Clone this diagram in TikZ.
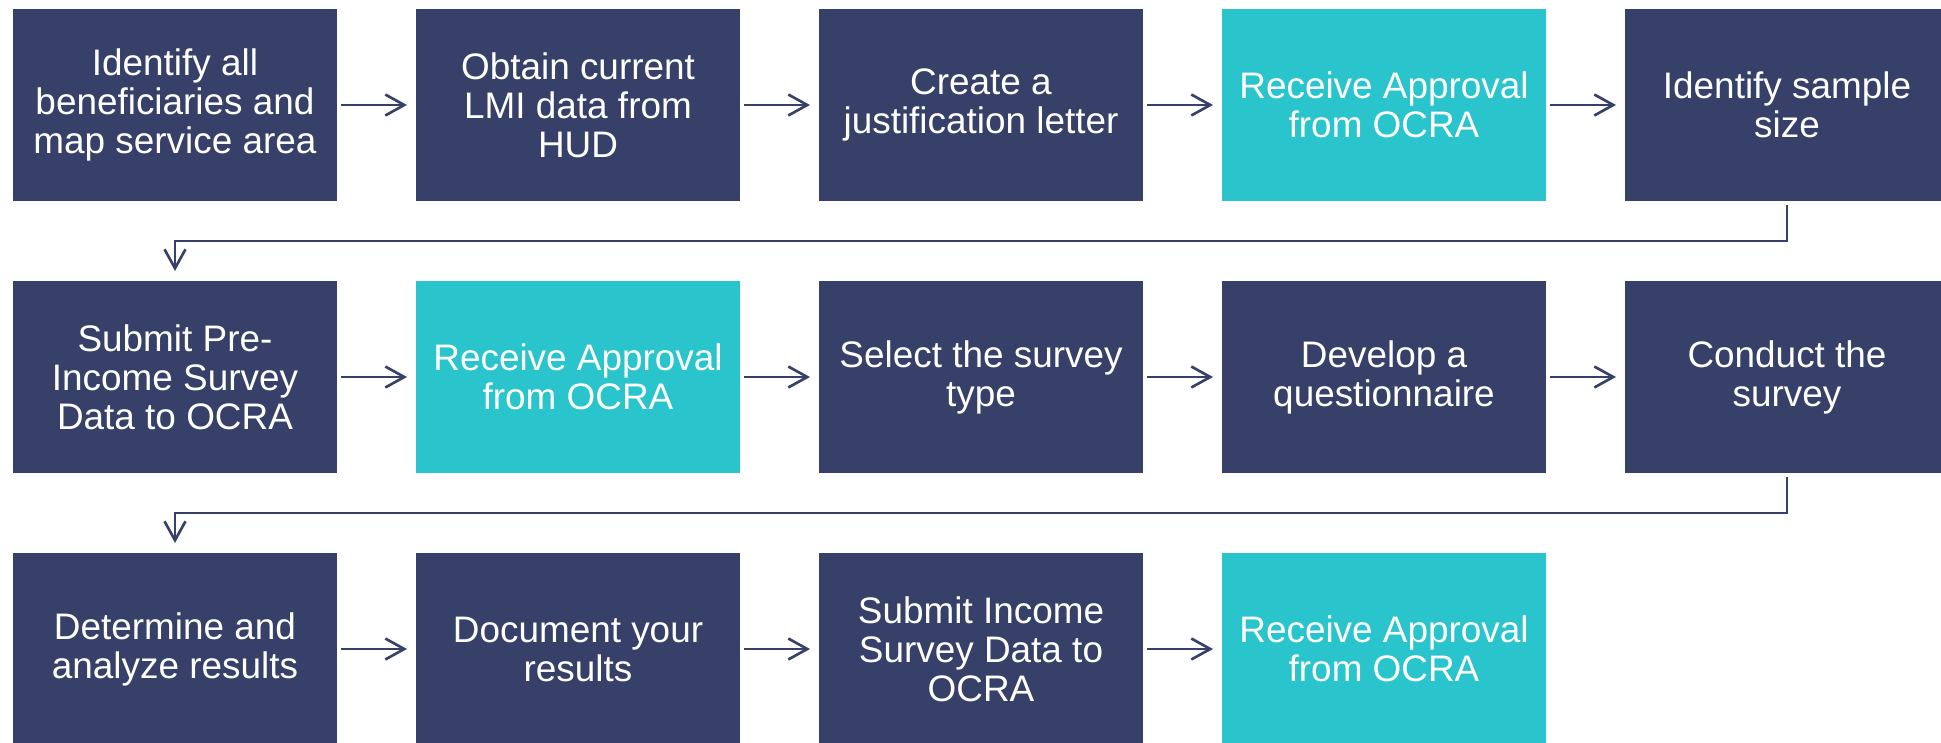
\documentclass[tikz,border=0pt]{standalone}
\usepackage{fontspec}
\setmainfont{Liberation Sans}
\usepackage{tikz}
\usetikzlibrary{positioning, arrows.meta}

\definecolor{navy}{RGB}{54,64,104}
\definecolor{aqua}{RGB}{41,196,204}

\begin{document}
\begin{tikzpicture}[
    node distance=0.79cm,
    stepbox/.style={rectangle, fill=navy, text=white, minimum width=3.24cm, minimum height=1.92cm, inner sep=0pt, outer sep=0pt, align=center, font=\fontsize{10.5}{11.1}\selectfont},
    approval/.style={stepbox, fill=aqua},
    arrow/.style={-{Straight Barb[length=1.9mm, width=2.1mm]}, line width=0.75pt, draw=navy, shorten <=0.4mm, shorten >=0.9mm}
]
\useasboundingbox (0,0) rectangle (19.41,-7.42);

% First row
\node[stepbox] (s1) at (1.75,-1.05) {Identify all\\beneficiaries and\\map service area};
\node[stepbox, right=of s1] (s2) {Obtain current\\LMI data from\\HUD};
\node[stepbox, right=of s2] (s3) {Create a\\justification letter};
\node[approval, right=of s3] (s4) {Receive Approval\\from OCRA};
\node[stepbox, right=of s4] (s5) {Identify sample\\size};

% Second row
\node[stepbox, below=0.8cm of s1] (s6) {Submit Pre-\\Income Survey\\Data to OCRA};
\node[approval, right=of s6] (s7) {Receive Approval\\from OCRA};
\node[stepbox, right=of s7] (s8) {Select the survey\\type};
\node[stepbox, right=of s8] (s9) {Develop a\\questionnaire};
\node[stepbox, right=of s9] (s10) {Conduct the\\survey};

% Third row
\node[stepbox, below=0.8cm of s6] (s11) {Determine and\\analyze results};
\node[stepbox, right=of s11] (s12) {Document your\\results};
\node[stepbox, right=of s12] (s13) {Submit Income\\Survey Data to\\OCRA};
\node[approval, right=of s13] (s14) {Receive Approval\\from OCRA};

% Arrows along each row
\draw[arrow] (s1) -- (s2);
\draw[arrow] (s2) -- (s3);
\draw[arrow] (s3) -- (s4);
\draw[arrow] (s4) -- (s5);
\draw[arrow] (s6) -- (s7);
\draw[arrow] (s7) -- (s8);
\draw[arrow] (s8) -- (s9);
\draw[arrow] (s9) -- (s10);
\draw[arrow] (s11) -- (s12);
\draw[arrow] (s12) -- (s13);
\draw[arrow] (s13) -- (s14);

% Wrap to the next row
\draw[arrow, shorten >=1mm] (s5.south) -- ++(0,-0.4) -| (s6.north);
\draw[arrow, shorten >=1mm] (s10.south) -- ++(0,-0.4) -| (s11.north);

\end{tikzpicture}
\end{document}
